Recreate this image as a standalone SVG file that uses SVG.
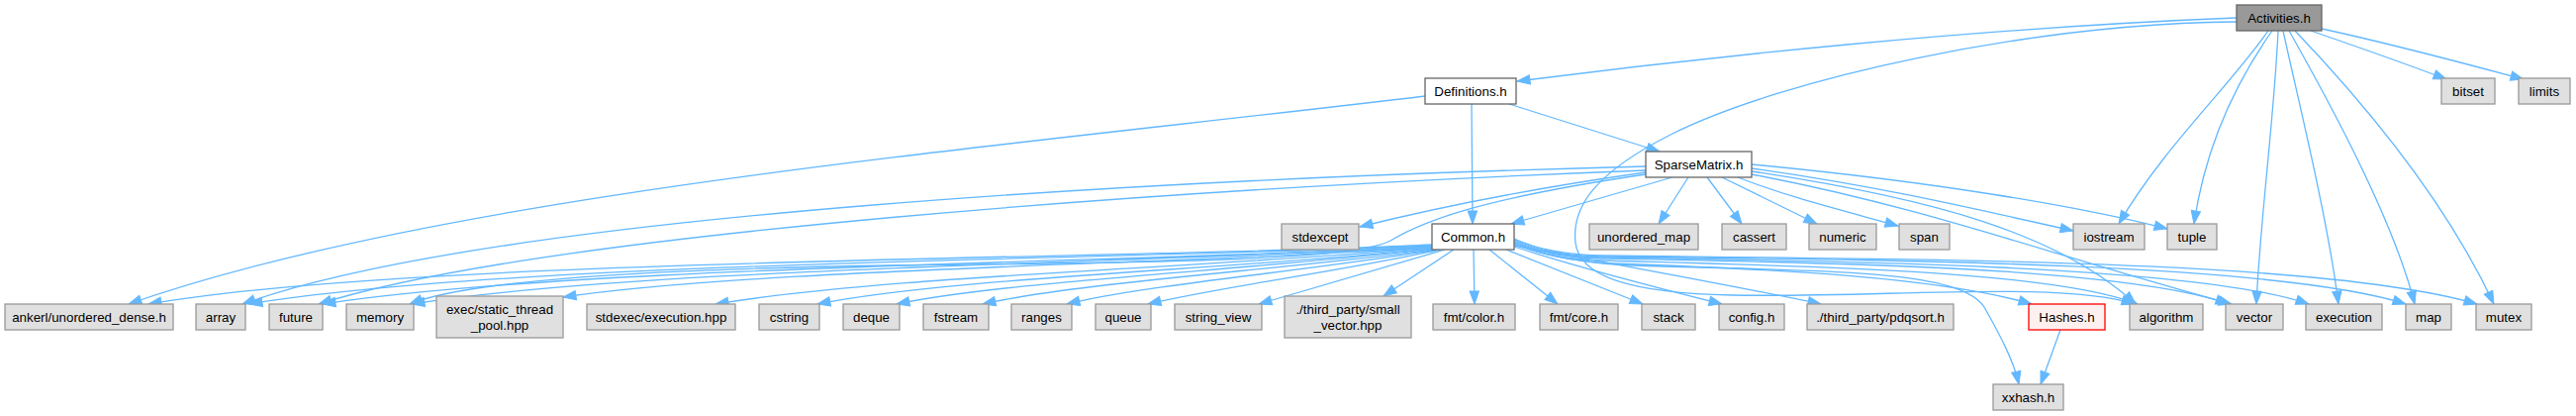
<svg xmlns="http://www.w3.org/2000/svg" width="2603" height="420" viewBox="0 0 2603 420">
<style>
text{font-family:"Liberation Sans",Arial,Helvetica,sans-serif;font-size:13.33px;fill:#000;text-anchor:middle}
.g rect{fill:#e0e0e0;stroke:#999999;stroke-width:1.3}
.w rect{fill:#ffffff;stroke:#666666;stroke-width:1.3}
.r rect{fill:#999999;stroke:#666666;stroke-width:1.3}
.h rect{fill:#fff0f0;stroke:#ff0000;stroke-width:1.3}
#edges path{fill:none;stroke:#63b8ff;stroke-width:1.3;marker-end:url(#a)}
</style>
<defs>
<marker id="a" markerUnits="userSpaceOnUse" markerWidth="14" markerHeight="10" refX="13" refY="4.7" orient="auto" overflow="visible">
<path d="M0,0 L13,4.7 L0,9.4 z" fill="#63b8ff" stroke="#63b8ff" stroke-width="1"/>
</marker>
</defs>
<rect width="2603" height="420" fill="#ffffff"/>
<g id="edges">
<path d="M2260,18 C2000,28 1720,58 1533,82"/>
<path d="M2260,22 C2050,24 1800,80 1690,135 C1610,175 1588,210 1592,245 C1596,280 1650,296 1750,298 C1900,301 2080,283 2157,307"/>
<path d="M2292,31 C2255,85 2185,150 2141,226"/>
<path d="M2296,31 C2258,85 2228,150 2217,226"/>
<path d="M2302,31 C2298,120 2284,220 2280,307"/>
<path d="M2307,31 C2322,100 2352,220 2363,307"/>
<path d="M2313,31 C2352,100 2418,220 2440,307"/>
<path d="M2319,31 C2385,100 2470,200 2520,307"/>
<path d="M2335,31 C2390,50 2430,64 2472,80"/>
<path d="M2346,29 C2420,45 2490,64 2550,80"/>
<path d="M1525,105 L1677,153"/>
<path d="M1487,105 L1488,226"/>
<path d="M1440,97 C1000,150 450,195 130,307"/>
<path d="M1663,168 C1200,180 500,215 245,307"/>
<path d="M1663,172 C1200,190 550,235 322,307"/>
<path d="M1663,174 C1550,190 1450,210 1374,229"/>
<path d="M1663,176 C1500,200 1440,222 1405,243 C1370,262 1200,265 900,268 C700,271 480,280 414,307"/>
<path d="M1690,179 L1527,226"/>
<path d="M1706,179 L1676,226"/>
<path d="M1725,179 L1760,226"/>
<path d="M1740,179 L1836,226"/>
<path d="M1756,179 C1810,200 1860,212 1918,228"/>
<path d="M1770,170 C1900,188 2000,212 2095,233"/>
<path d="M1770,166 C1950,183 2100,208 2190,231"/>
<path d="M1770,173 C1950,200 2080,235 2158,307"/>
<path d="M1770,176 C1950,210 2080,260 2255,307"/>
<path d="M1447,247 C1150,262 420,260 150,307"/>
<path d="M1447,248 C1150,262 520,263 252,307"/>
<path d="M1447,249 C1150,265 580,268 326,307"/>
<path d="M1447,249 C1150,266 650,270 416,307"/>
<path d="M1447,250 C1150,268 760,272 569,300"/>
<path d="M1447,250 C1200,272 900,278 723,307"/>
<path d="M1447,251 C1250,272 960,280 826,307"/>
<path d="M1447,251 C1280,272 1020,283 906,307"/>
<path d="M1449,252 C1300,272 1090,285 993,307"/>
<path d="M1452,252 C1320,274 1160,287 1078,307"/>
<path d="M1455,252 C1350,275 1230,290 1160,307"/>
<path d="M1460,252 L1272,307"/>
<path d="M1469,252 L1398,299"/>
<path d="M1489,252 L1490,307"/>
<path d="M1505,252 L1574,307"/>
<path d="M1522,252 L1660,307"/>
<path d="M1530,249 C1600,272 1680,292 1740,307"/>
<path d="M1530,248 C1650,270 1760,290 1840,307"/>
<path d="M1530,246 C1560,258 1590,264 1630,266 C1800,272 1960,280 2053,307"/>
<path d="M1530,245 C1555,256 1580,262 1620,263 C1800,268 2070,272 2160,307"/>
<path d="M1530,244 C1555,255 1580,260 1620,261 C1850,265 2150,270 2252,307"/>
<path d="M1530,243 C1555,254 1580,259 1620,260 C1850,263 2220,268 2333,307"/>
<path d="M1530,242 C1555,253 1580,258 1620,259 C1900,262 2300,265 2431,307"/>
<path d="M1530,241 C1555,252 1580,257 1620,258 C1950,262 2350,262 2503,307"/>
<path d="M1530,247 C1560,258 1600,266 1650,268 C1850,274 1980,272 2005,310 C2022,340 2035,365 2040,388"/>
<path d="M2082,333 L2062,388"/>
</g>
<g id="n_activities" class="r"><rect x="2260" y="5" width="86" height="26"/><text x="2303" y="22.7">Activities.h</text></g>
<g id="n_definitions" class="w"><rect x="1440" y="79" width="92" height="26"/><text x="1486" y="96.7">Definitions.h</text></g>
<g id="n_bitset" class="g"><rect x="2467" y="79" width="54" height="26"/><text x="2494" y="96.7">bitset</text></g>
<g id="n_limits" class="g"><rect x="2545" y="79" width="52" height="26"/><text x="2571" y="96.7">limits</text></g>
<g id="n_sparsematrix" class="w"><rect x="1663" y="153" width="107" height="26"/><text x="1716.5" y="170.7">SparseMatrix.h</text></g>
<g id="n_stdexcept" class="g"><rect x="1295" y="226" width="78" height="26"/><text x="1334" y="243.7">stdexcept</text></g>
<g id="n_common" class="w"><rect x="1447" y="226" width="83" height="26"/><text x="1488.5" y="243.7">Common.h</text></g>
<g id="n_unordered_map" class="g"><rect x="1606" y="226" width="110" height="26"/><text x="1661" y="243.7">unordered_map</text></g>
<g id="n_cassert" class="g"><rect x="1740" y="226" width="65" height="26"/><text x="1772.5" y="243.7">cassert</text></g>
<g id="n_numeric" class="g"><rect x="1828" y="226" width="68" height="26"/><text x="1862" y="243.7">numeric</text></g>
<g id="n_span" class="g"><rect x="1919" y="226" width="51" height="26"/><text x="1944.5" y="243.7">span</text></g>
<g id="n_iostream" class="g"><rect x="2095" y="226" width="72" height="26"/><text x="2131" y="243.7">iostream</text></g>
<g id="n_tuple" class="g"><rect x="2190" y="226" width="50" height="26"/><text x="2215" y="243.7">tuple</text></g>
<g id="n_ankerl" class="g"><rect x="5" y="307" width="170" height="26"/><text x="90" y="324.7">ankerl/unordered_dense.h</text></g>
<g id="n_array" class="g"><rect x="198" y="307" width="50" height="26"/><text x="223" y="324.7">array</text></g>
<g id="n_future" class="g"><rect x="272" y="307" width="54" height="26"/><text x="299" y="324.7">future</text></g>
<g id="n_memory" class="g"><rect x="350" y="307" width="68" height="26"/><text x="384" y="324.7">memory</text></g>
<g id="n_exec" class="g"><rect x="441" y="299" width="128" height="42"/><text x="505" y="317">exec/static_thread</text><text x="505" y="333">_pool.hpp</text></g>
<g id="n_stdexec" class="g"><rect x="593" y="307" width="150" height="26"/><text x="668" y="324.7">stdexec/execution.hpp</text></g>
<g id="n_cstring" class="g"><rect x="767" y="307" width="61" height="26"/><text x="797.5" y="324.7">cstring</text></g>
<g id="n_deque" class="g"><rect x="852" y="307" width="57" height="26"/><text x="880.5" y="324.7">deque</text></g>
<g id="n_fstream" class="g"><rect x="933" y="307" width="66" height="26"/><text x="966" y="324.7">fstream</text></g>
<g id="n_ranges" class="g"><rect x="1022" y="307" width="61" height="26"/><text x="1052.5" y="324.7">ranges</text></g>
<g id="n_queue" class="g"><rect x="1107" y="307" width="56" height="26"/><text x="1135" y="324.7">queue</text></g>
<g id="n_string_view" class="g"><rect x="1187" y="307" width="88" height="26"/><text x="1231" y="324.7">string_view</text></g>
<g id="n_small_vector" class="g"><rect x="1298" y="299" width="128" height="42"/><text x="1362" y="317">./third_party/small</text><text x="1362" y="333">_vector.hpp</text></g>
<g id="n_fmt_color" class="g"><rect x="1448" y="307" width="83" height="26"/><text x="1489.5" y="324.7">fmt/color.h</text></g>
<g id="n_fmt_core" class="g"><rect x="1556" y="307" width="79" height="26"/><text x="1595.5" y="324.7">fmt/core.h</text></g>
<g id="n_stack" class="g"><rect x="1659" y="307" width="54" height="26"/><text x="1686" y="324.7">stack</text></g>
<g id="n_config" class="g"><rect x="1737" y="307" width="66" height="26"/><text x="1770" y="324.7">config.h</text></g>
<g id="n_pdqsort" class="g"><rect x="1826" y="307" width="148" height="26"/><text x="1900" y="324.7">./third_party/pdqsort.h</text></g>
<g id="n_hashes" class="h"><rect x="2050" y="307" width="77" height="26"/><text x="2088.5" y="324.7">Hashes.h</text></g>
<g id="n_algorithm" class="g"><rect x="2152" y="307" width="74" height="26"/><text x="2189" y="324.7">algorithm</text></g>
<g id="n_vector" class="g"><rect x="2249" y="307" width="58" height="26"/><text x="2278" y="324.7">vector</text></g>
<g id="n_execution" class="g"><rect x="2330" y="307" width="77" height="26"/><text x="2368.5" y="324.7">execution</text></g>
<g id="n_map" class="g"><rect x="2431" y="307" width="46" height="26"/><text x="2454" y="324.7">map</text></g>
<g id="n_mutex" class="g"><rect x="2502" y="307" width="56" height="26"/><text x="2530" y="324.7">mutex</text></g>
<g id="n_xxhash" class="g"><rect x="2014" y="388" width="71" height="26"/><text x="2049.5" y="405.7">xxhash.h</text></g>
</svg>
